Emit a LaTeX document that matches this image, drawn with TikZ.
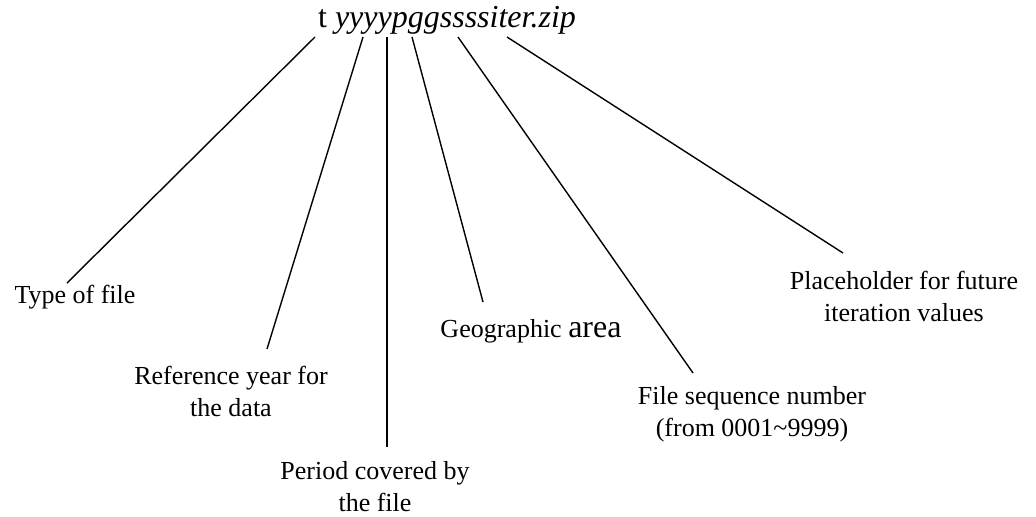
\documentclass[tikz,border=0pt]{standalone}
\usepackage{fontspec}
\setmainfont{LiberationSerif}[Extension=.ttf,UprightFont=*-Regular,ItalicFont=*-Italic,BoldFont=*-Bold,BoldItalicFont=*-BoldItalic]
\usepackage{tikz}

\tikzset{
  lbl/.style={align=center,font=\rmfamily\fontsize{13}{16}\selectfont,inner sep=0pt},
  lead/.style={line width=0.7pt}
}

\begin{document}
\begin{tikzpicture}[x=0.5pt,y=-0.5pt]
    \useasboundingbox (0,0) rectangle (1036,516);
    \node[inner sep=0pt,font=\rmfamily\fontsize{16}{19}\selectfont] (name) at (447,20) {t \textit{yyyypggssssiter.zip}};

    % labels
    \node[lbl] (type) at (75,297) {Type of file};
    \node[lbl] (year) at (231,391) {Reference year for\\the data};
    \node[lbl] (period) at (375,487) {Period covered by\\the file};
    \node[lbl] (geo) at (531,331) {Geographic {\fontsize{16}{16}\selectfont area}};
    \node[lbl] (seq) at (752,414) {File sequence number\\(from 0001\textasciitilde 9999)};
    \node[lbl] (iter) at (904,296) {Placeholder for future\\iteration values};

    % ends of the leaders
    \coordinate (type-a) at (315,37);  \coordinate (type-b) at (67,283);
    \coordinate (year-a) at (363,37);  \coordinate (year-b) at (267,349);
    \coordinate (period-a) at (387,37);\coordinate (period-b) at (387,447);
    \coordinate (geo-a) at (412,37);   \coordinate (geo-b) at (483,302);
    \coordinate (seq-a) at (458,37);   \coordinate (seq-b) at (693,373);
    \coordinate (iter-a) at (507,37);  \coordinate (iter-b) at (843,253);

    \foreach \k in {type,year,period,geo,seq,iter}
        \draw[lead] (\k-a) -- (\k-b);
\end{tikzpicture}
\end{document}
